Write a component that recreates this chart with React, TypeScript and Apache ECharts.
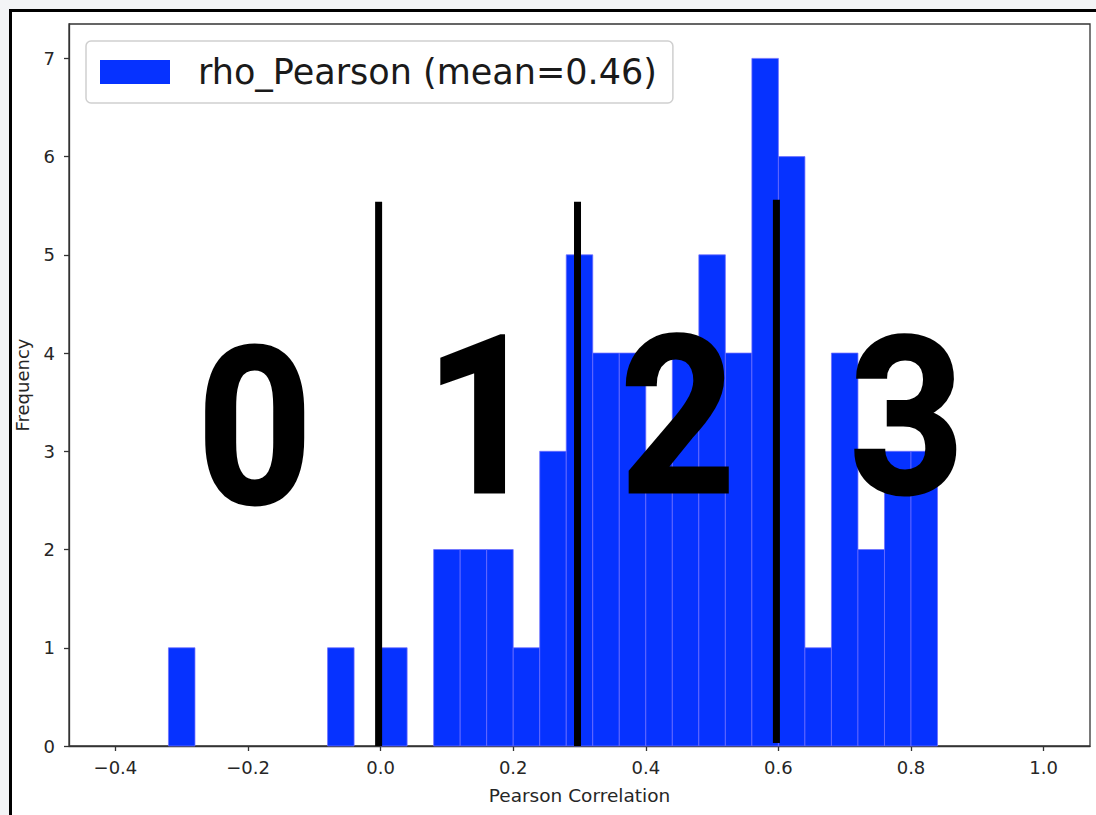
import React, { useEffect, useRef } from "react";
import * as echarts from "echarts";

// Histogram bins (left edges) and counts
const binLeft = [
  -0.32, -0.28, -0.24, -0.2, -0.16, -0.12, -0.08, -0.04, 0.0, 0.04,
  0.08, 0.12, 0.16, 0.2, 0.24, 0.28, 0.32, 0.36, 0.4, 0.44,
  0.48, 0.52, 0.56, 0.6, 0.64, 0.68, 0.72, 0.76, 0.8,
];
const binWidth = 0.04;
const counts = [
  1, 0, 0, 0, 0, 0, 1, 0, 1, 0,
  2, 2, 2, 1, 3, 5, 4, 4, 3, 4,
  5, 4, 7, 6, 1, 4, 2, 3, 3,
];
const seriesName = "rho_Pearson (mean=0.46)";

const xTicks = [-0.4, -0.2, 0.0, 0.2, 0.4, 0.6, 0.8, 1.0];
const yTicks = [0, 1, 2, 3, 4, 5, 6, 7];

// Hand-drawn divider lines (x position, top, bottom in data units)
const dividerX = [-0.003, 0.297, 0.597];
const dividerTop = [5.54, 5.54, 5.56];
const dividerBottom = [0, 0, 0.03];

// Big group labels (data-space anchors)
const groupLabels = ["0", "1", "2", "3"];
const groupLabelX = [-0.19, 0.154, 0.448, 0.794];
const groupLabelY = [3.24, 3.35, 3.35, 3.34];

const fmtX = (v: number) => (v < 0 ? "\u2212" : "") + Math.abs(v).toFixed(1);

const MPL_FONT = "DejaVu Sans";

export default function App() {
  const ref = useRef<HTMLDivElement>(null);

  useEffect(() => {
    if (!ref.current) return;
    const chart = echarts.init(ref.current, undefined, { renderer: "svg" });
    const axisColor = "#333333";
    const labelColor = "#262626";

    const option: any = {
      animation: false,
      backgroundColor: "#f3f4f6",
      graphic: [
        {
          type: "rect",
          z: -100,
          silent: true,
          shape: { x: 10.5, y: 10.5, width: 1100, height: 820 },
          style: { fill: "#ffffff", stroke: "#000000", lineWidth: 3 },
        },
      ],
      grid: {
        left: 69,
        right: 6,
        top: 24,
        bottom: 69,
        show: true,
        borderColor: axisColor,
        borderWidth: 1.3,
        backgroundColor: "#ffffff",
      },
      legend: {
        data: [{ name: seriesName, icon: "rect" }],
        left: 86,
        top: 41,
        padding: [11, 16, 11, 14],
        itemWidth: 70,
        itemHeight: 24,
        backgroundColor: "#ffffff",
        borderColor: "#cfcfcf",
        borderWidth: 1.5,
        borderRadius: 5,
        selectedMode: false,
        textStyle: {
          fontSize: 35,
          color: "#1a1a1a",
          fontFamily: MPL_FONT,
          padding: [0, 0, 0, 23],
          lineHeight: 40,
        },
      },
      xAxis: {
        type: "value",
        min: -0.47,
        max: 1.07,
        splitLine: { show: false },
        axisLine: { show: true, onZero: false, lineStyle: { color: axisColor, width: 1.3 } },
        axisTick: { show: true, customValues: xTicks, length: 5, lineStyle: { color: axisColor, width: 1.3 } },
        axisLabel: { customValues: xTicks, formatter: fmtX, fontSize: 18, color: labelColor, margin: 12, fontFamily: MPL_FONT },
        name: "Pearson Correlation",
        nameLocation: "middle",
        nameGap: 40,
        nameTextStyle: { fontSize: 18.5, color: labelColor, fontFamily: MPL_FONT },
      },
      yAxis: {
        type: "value",
        min: 0,
        max: 7.35,
        splitLine: { show: false },
        axisLine: { show: true, onZero: false, lineStyle: { color: axisColor, width: 1.3 } },
        axisTick: { show: true, customValues: yTicks, length: 5, lineStyle: { color: axisColor, width: 1.3 } },
        axisLabel: { customValues: yTicks, fontSize: 18, color: labelColor, margin: 14, fontFamily: MPL_FONT },
        name: "Frequency",
        nameLocation: "middle",
        nameGap: 38,
        nameTextStyle: { fontSize: 18, color: labelColor, fontFamily: MPL_FONT },
      },
      series: [
        {
          type: "custom",
          name: seriesName,
          data: binLeft.map((l, i) => [l, l + binWidth, counts[i]]),
          encode: { x: [0, 1], y: 2 },
          itemStyle: { color: "#0632ff" },
          z: 2,
          renderItem: (params: any, api: any) => {
            const c = api.value(2);
            if (!c) return { type: "group", children: [] };
            const p0 = api.coord([api.value(0), c]);
            const p1 = api.coord([api.value(1), 0]);
            return {
              type: "rect",
              shape: { x: p0[0], y: p0[1], width: p1[0] - p0[0], height: p1[1] - p0[1] },
              style: { fill: "#0632ff", stroke: "rgba(110,110,255,0.75)", lineWidth: 1 },
            };
          },
        },
        {
          type: "custom",
          name: "dividers",
          silent: true,
          z: 5,
          data: dividerX.map((x, i) => [x, dividerTop[i], dividerBottom[i]]),
          encode: { x: 0, y: [1, 2] },
          renderItem: (params: any, api: any) => {
            const t = api.coord([api.value(0), api.value(1)]);
            const b = api.coord([api.value(0), api.value(2)]);
            return {
              type: "rect",
              shape: { x: t[0] - 3.5, y: t[1], width: 7, height: b[1] - t[1] },
              style: { fill: "#000000" },
            };
          },
        },
        {
          type: "custom",
          name: "groups",
          silent: true,
          z: 6,
          data: groupLabelX.map((x, i) => [x, groupLabelY[i]]),
          encode: { x: 0, y: 1 },
          renderItem: (params: any, api: any) => {
            const pt = api.coord([api.value(0), api.value(1)]);
            return {
              type: "text",
              x: pt[0],
              y: pt[1],
              scaleX: 0.91,
              style: {
                text: groupLabels[params.dataIndex],
                fontSize: 220,
                fontWeight: 700,
                fontFamily: "Roboto",
                fill: "#000000",
                stroke: "#000000",
                lineWidth: 3,
                align: "center",
                verticalAlign: "middle",
              },
            };
          },
        },
      ],
    };

    chart.setOption(option);
    return () => chart.dispose();
  }, []);

  return (
    <div
      ref={ref}
      style={{ position: "absolute", left: 0, top: 0, width: 1096, height: 815 }}
    />
  );
}
